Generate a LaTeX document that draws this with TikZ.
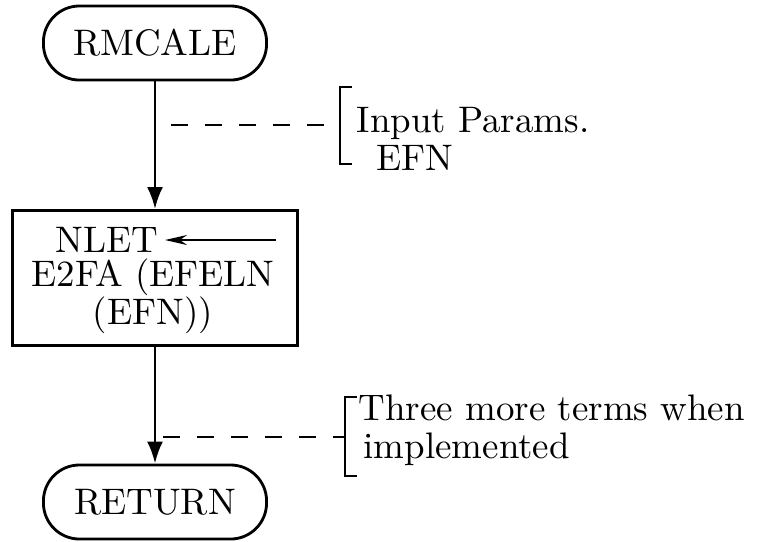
\documentclass[tikz,border=0pt]{standalone}
\usetikzlibrary{arrows.meta,positioning}

\tikzset{
  terminal/.style={draw, thick, rounded corners=0.36cm, minimum width=2.23cm, minimum height=0.74cm},
  procbox/.style={draw, thick, minimum width=2.85cm, minimum height=1.35cm},
  flow/.style={thick, -{Latex[length=0.22cm,width=0.16cm]}},
  noteline/.style={thin, dash pattern=on 0.17cm off 0.17cm},
}

\begin{document}
\begin{tikzpicture}[x=0.01cm, y=-0.01cm,
    font=\fontsize{10.5}{10.8}\selectfont,
    every node/.style={inner sep=0pt}]
  \useasboundingbox (0,0) rectangle (766,541);

  % main flow
  \node (start)[terminal] at (155,43) {RMCALE};
  \node (calc)[procbox] at (155,278) {};
  \node (stop)[terminal] at (155,502) {RETURN};

  % text in the box
  \node (nlet) at (107,240) {NLET};
  \node (call)[align=center] at (153,296) {E2FA (EFELN\\(EFN))};
  \coordinate (nletsrc) at (276,240);

  \path (start) edge[flow] (calc);
  \path (calc) edge[flow] (stop);
  \draw[semithick, -{Stealth[length=0.22cm,width=0.1cm]}] (nletsrc) -- ([xshift=0.06cm]nlet.east);

  % notes
  \node (inp)[anchor=west, align=left] at (356,139) {Input Params.\\\hspace{0.2cm}EFN};
  \node (more)[anchor=west, align=left] at (358,430) {Three more terms when\\\hspace{0.05cm}implemented};

  \coordinate (tap1) at (171,125);
  \coordinate (brk1) at (340,125);
  \coordinate (tap2) at (163,437);
  \coordinate (brk2) at (345,437);

  \draw[noteline] (tap1) -- (brk1);
  \draw[noteline] (tap2) -- (brk2);
  \draw[semithick] (352,87) -- (340,87) -- (340,164) -- (352,164);
  \draw[semithick] (357,397) -- (345,397) -- (345,476) -- (357,476);
\end{tikzpicture}
\end{document}
